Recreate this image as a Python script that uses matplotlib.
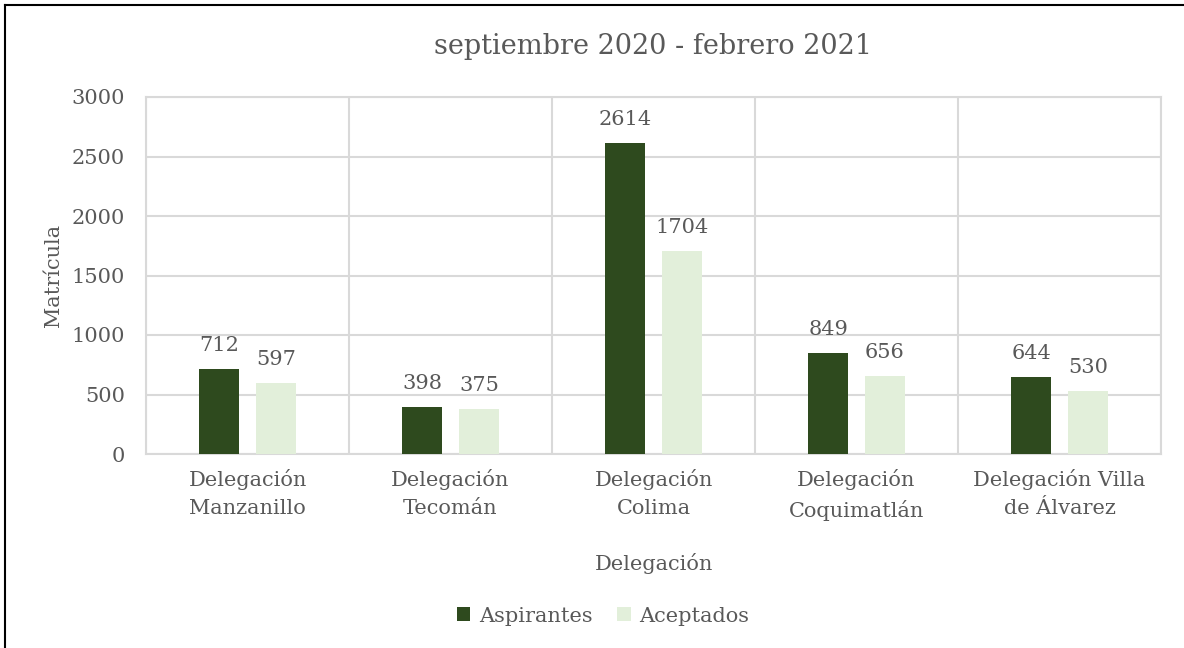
import numpy as np
import matplotlib.pyplot as plt
from matplotlib.lines import Line2D

categories = ['Delegación\nManzanillo', 'Delegación\nTecomán', 'Delegación\nColima',
              'Delegación\nCoquimatlán', 'Delegación Villa\nde Álvarez']
aspirantes = [712, 398, 2614, 849, 644]
aceptados = [597, 375, 1704, 656, 530]

dark = '#2E4A1E'
light = '#E2EFDA'
txt = '#595959'
grid = '#D9D9D9'

plt.rcParams['font.family'] = ['DejaVu Serif']

fig = plt.figure(figsize=(11.84, 6.48), dpi=100)
ax = fig.add_axes([146/1184, 1 - 454/648, (1161-146)/1184, (454-97)/648])

x = np.arange(len(categories))
w = 0.197
b1 = ax.bar(x - 0.14, aspirantes, w, color=dark, label='Aspirantes', zorder=3)
b2 = ax.bar(x + 0.14, aceptados, w, color=light, label='Aceptados', zorder=3)
for bars in (b1, b2):
    ax.bar_label(bars, padding=10, fontsize=15, color=txt)

ax.set_xlim(-0.5, len(categories) - 0.5)
ax.set_ylim(0, 3000)
ax.set_yticks(range(0, 3001, 500))
ax.set_xticks(x)
ax.set_xticklabels(categories, fontsize=15, color=txt, linespacing=1.55)
ax.tick_params(axis='y', labelsize=15, labelcolor=txt, length=0, pad=15)
ax.tick_params(axis='x', length=0, pad=11)
ax.set_xticks(np.arange(-0.5, len(categories)), minor=True)
ax.tick_params(axis='x', which='minor', length=0)
ax.grid(axis='y', color=grid, lw=1.5, zorder=0)
ax.grid(axis='x', which='minor', color=grid, lw=1.5, zorder=0)
ax.grid(axis='x', which='major', visible=False)
for s in ax.spines.values():
    s.set_color(grid)
    s.set_linewidth(1.5)

ax.set_title('septiembre 2020 - febrero 2021', fontsize=19.5, color=txt, pad=31)
ax.set_xlabel('Delegación', fontsize=15, color=txt, labelpad=23)
ax.set_ylabel('Matrícula', fontsize=15, color=txt, labelpad=6)

leg = fig.legend(loc='center', bbox_to_anchor=(603/1184, 1 - 616/648), ncol=2, frameon=False,
                 fontsize=15, handlelength=0.65, handleheight=0.65, handletextpad=0.4,
                 columnspacing=1.2)
for t in leg.get_texts():
    t.set_color(txt)

# outer frame (only left and top edges are visible)
fig.add_artist(Line2D([5/1184, 5/1184], [0, 1 - 5/648], transform=fig.transFigure,
                      color='black', lw=1.5))
fig.add_artist(Line2D([5/1184, 1], [1 - 5/648, 1 - 5/648], transform=fig.transFigure,
                      color='black', lw=1.5))

fig.savefig('out.png', dpi=100)
